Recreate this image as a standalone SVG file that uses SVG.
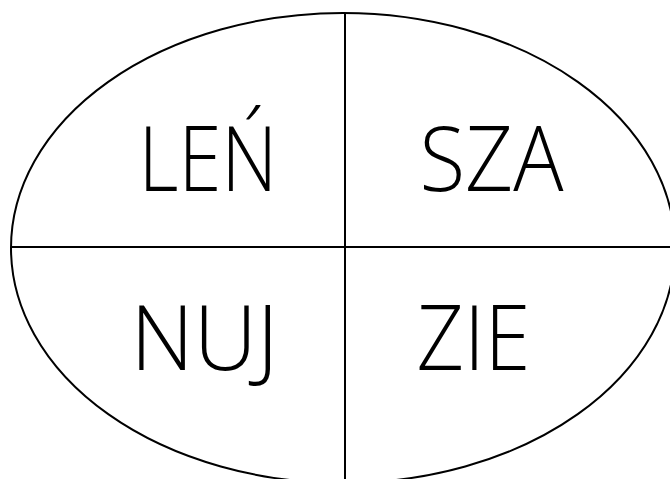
<svg xmlns="http://www.w3.org/2000/svg" width="670" height="479" viewBox="0 0 670 479">
<style>
.s{fill:none;stroke:#000;stroke-width:2}
.t{font-family:"Open Sans","Noto Sans","DejaVu Sans",sans-serif;font-weight:300;font-size:90px;fill:#000}
</style>
<rect width="670" height="479" fill="#fff"/>
<g id="connectors">
<ellipse class="s" cx="343" cy="248" rx="332" ry="235"/>
<line class="s" x1="345" y1="13" x2="345" y2="479"/>
<line class="s" x1="11" y1="247" x2="670" y2="247"/>
</g>
<g id="q1"><text class="t" x="208" y="191" text-anchor="middle" textLength="139" lengthAdjust="spacingAndGlyphs">LEŃ</text></g>
<g id="q2"><text class="t" x="491.5" y="191" text-anchor="middle" textLength="144" lengthAdjust="spacingAndGlyphs">SZA</text></g>
<g id="q3"><text class="t" x="204.5" y="370" text-anchor="middle" textLength="148" lengthAdjust="spacingAndGlyphs">NUJ</text></g>
<g id="q4"><text class="t" x="473.5" y="370" text-anchor="middle" textLength="114" lengthAdjust="spacingAndGlyphs">ZIE</text></g>
</svg>
